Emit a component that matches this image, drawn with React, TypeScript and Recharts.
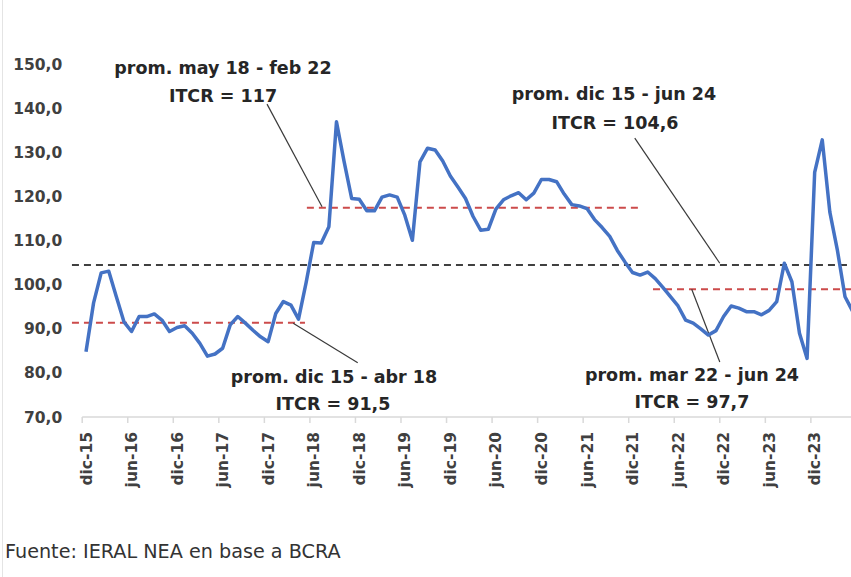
import React from 'react';
import { LineChart, Line, XAxis, YAxis, ReferenceLine } from 'recharts';

// meses desde dic-15 (índice 0) hasta jun-24 (índice 102)
const itcr = [
  84.8, 95.9, 102.7, 103.1, 97.3, 91.6, 89.4, 92.8, 92.8, 93.4, 92.0, 89.4,
  90.3, 90.7, 89.0, 86.7, 83.8, 84.3, 85.6, 90.9, 92.8, 91.3, 89.7, 88.2,
  87.1, 93.5, 96.2, 95.4, 92.2, 100.5, 109.6, 109.5, 113.2, 137.0, 128.0, 119.6,
  119.4, 116.8, 116.8, 119.9, 120.4, 119.9, 115.8, 110.1, 127.9, 131.0, 130.6, 128.1,
  124.7, 122.2, 119.6, 115.5, 112.4, 112.6, 117.2, 119.3, 120.2, 120.9, 119.3, 120.8,
  123.9, 123.9, 123.4, 120.6, 118.2, 117.9, 117.3, 114.8, 113.0, 111.0, 107.8, 105.2,
  102.8, 102.2, 102.9, 101.4, 99.4, 97.3, 95.2, 92.0, 91.3, 90.0, 88.6, 89.6,
  92.8, 95.2, 94.7, 93.9, 93.9, 93.2, 94.2, 96.2, 104.9, 100.7, 89.0, 83.3,
  125.5, 132.9, 116.5, 107.8, 97.3, 94.0, 92.0,
];

// jun-24 queda fuera del recorte, no se rotula
const tickIndex = [0, 6, 12, 18, 24, 30, 36, 42, 48, 54, 60, 66, 72, 78, 84, 90, 96];
const tickLabels = [
  'dic-15', 'jun-16', 'dic-16', 'jun-17', 'dic-17', 'jun-18', 'dic-18', 'jun-19', 'dic-19',
  'jun-20', 'dic-20', 'jun-21', 'dic-21', 'jun-22', 'dic-22', 'jun-23', 'dic-23',
];
const yTicks = [70, 80, 90, 100, 110, 120, 130, 140, 150];

// promedios: [desde, hasta, nivel]
const avgTotal = [-1.85, 106, 104.5];
const avgPeriods = [
  [-1.85, 28.85, 91.4],
  [29.1, 73.3, 117.5],
  [74.7, 106, 99.0],
];

// líneas guía de las anotaciones: [x1, y1, x2, y2] en unidades del gráfico
const leaders = [
  [23.85, 141.0, 31.1, 117.7],
  [72.3, 133.3, 83.5, 104.9],
  [27.3, 91.3, 35.8, 82.3],
  [79.8, 99.0, 83.5, 82.5],
];

const notes = [
  { x: 223, y: 68, text: 'prom. may 18 - feb 22' },
  { x: 223, y: 96, text: 'ITCR = 117' },
  { x: 614, y: 94, text: 'prom. dic 15 - jun 24' },
  { x: 615, y: 123, text: 'ITCR = 104,6' },
  { x: 334, y: 377, text: 'prom. dic 15 - abr 18' },
  { x: 333, y: 404, text: 'ITCR = 91,5' },
  { x: 692, y: 375, text: 'prom. mar 22 - jun 24' },
  { x: 692, y: 402, text: 'ITCR = 97,7' },
];

const data = itcr.map((v, i) => ({ i, v }));

const W = 880;
const H = 577;
const yAxisW = 82.2;
const marginRight = 16;
const halfBand = (W - yAxisW - marginRight) / 103 / 2;
const font = '"DejaVu Sans", Verdana, sans-serif';

const XTick = (props: any) => {
  const { x, y, payload } = props;
  const label = tickLabels[tickIndex.indexOf(payload.value)];
  const ty = y + 15;
  return (
    <g>
      <line x1={x - halfBand} x2={x - halfBand} y1={y} y2={y + 6} stroke="#d9d9d9" strokeWidth={1.5} />
      <text
        x={x}
        y={ty}
        dy="0.36em"
        textAnchor="end"
        transform={`rotate(-90 ${x} ${ty})`}
        fill="#404040"
        fontSize={15.5}
        fontWeight="bold"
        fontFamily={font}
      >
        {label}
      </text>
    </g>
  );
};

const App: React.FC = () => {
  return (
    <div style={{ position: 'absolute', left: 0, top: 0, width: 851, height: 577, overflow: 'hidden', background: '#fff' }}>
      <div style={{ position: 'absolute', left: 2, top: 0, width: 1, height: 577, background: '#e4e4e4' }} />
      <LineChart width={W} height={H} data={data} margin={{ top: 64.5, right: marginRight, bottom: 100, left: 0 }}>
        <XAxis
          type="number"
          dataKey="i"
          domain={[-0.5, 102.5]}
          ticks={tickIndex}
          interval={0}
          allowDataOverflow
          tick={<XTick />}
          tickLine={false}
          tickSize={0}
          tickMargin={0}
          axisLine={{ stroke: '#d9d9d9', strokeWidth: 1.5 }}
          height={60}
        />
        <YAxis
          type="number"
          domain={[70, 150]}
          ticks={yTicks}
          interval={0}
          width={yAxisW}
          axisLine={false}
          tickLine={false}
          tickSize={0}
          tickMargin={20}
          tickFormatter={(v: number) => v.toFixed(1).replace('.', ',')}
          tick={{ fill: '#404040', fontSize: 15.5, fontWeight: 'bold', fontFamily: font }}
        />
        <ReferenceLine
          segment={[{ x: avgTotal[0], y: avgTotal[2] }, { x: avgTotal[1], y: avgTotal[2] }]}
          stroke="#404040"
          strokeWidth={2}
          strokeDasharray="7 5"
          ifOverflow="visible"
        />
        {avgPeriods.map((p, k) => (
          <ReferenceLine
            key={'avg' + k}
            segment={[{ x: p[0], y: p[2] }, { x: p[1], y: p[2] }]}
            stroke="#cc4b4b"
            strokeWidth={2}
            strokeDasharray="7 5"
            ifOverflow="visible"
          />
        ))}
        {leaders.map((l, k) => (
          <ReferenceLine
            key={'ld' + k}
            segment={[{ x: l[0], y: l[1] }, { x: l[2], y: l[3] }]}
            stroke="#3a3a3a"
            strokeWidth={1.2}
            ifOverflow="visible"
          />
        ))}
        <Line
          type="linear"
          dataKey="v"
          stroke="#4472c4"
          strokeWidth={3.5}
          strokeLinejoin="round"
          dot={false}
          isAnimationActive={false}
        />
      </LineChart>
      <svg width={851} height={577} style={{ position: 'absolute', left: 0, top: 0, pointerEvents: 'none' }}>
        {notes.map((n, k) => (
          <text
            key={k}
            x={n.x}
            y={n.y}
            dy="0.36em"
            textAnchor="middle"
            fill="#262626"
            fontSize={17.5}
            fontWeight="bold"
            fontFamily={font}
          >
            {n.text}
          </text>
        ))}
        <text x={5} y={551} dy="0.36em" fill="#333" fontSize={19.2} fontFamily={font}>
          Fuente: IERAL NEA en base a BCRA
        </text>
      </svg>
    </div>
  );
};

export default App;
